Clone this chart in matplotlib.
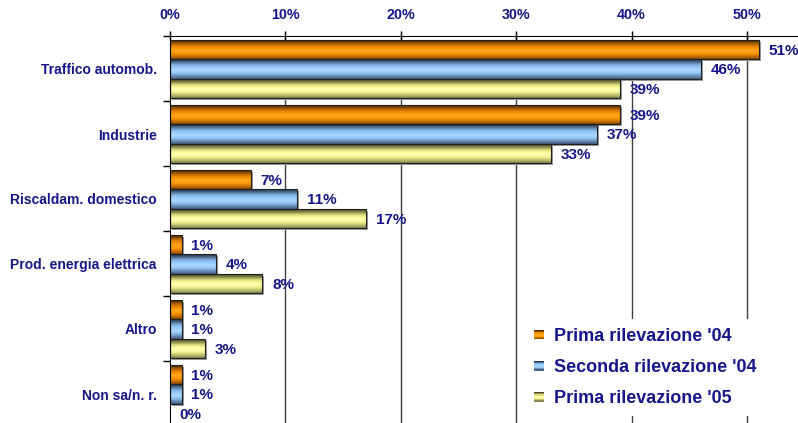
import numpy as np
import matplotlib
matplotlib.use("Agg")
import matplotlib.pyplot as plt
from matplotlib.colors import to_rgb
from matplotlib.patches import Rectangle
from matplotlib.legend_handler import HandlerBase

plt.rcParams['font.family'] = ['Liberation Sans', 'DejaVu Sans']

# Dati
categorie = ['Traffico automob.', 'Industrie', 'Riscaldam. domestico',
             'Prod. energia elettrica', 'Altro', 'Non sa/n. r.']
serie = ["Prima rilevazione '04", "Seconda rilevazione '04", "Prima rilevazione '05"]
prima_04 = [51, 39, 7, 1, 1, 1]
seconda_04 = [46, 37, 11, 4, 1, 1]
prima_05 = [39, 33, 17, 8, 3, 0]
valori = [prima_04, seconda_04, prima_05]

# sfumature (dall'alto al basso) per imitare le barre 3D di Excel
sfumature = [
    ['#4a2800', '#9a5600', '#e08000', '#ff9900', '#ffa626', '#ff9900', '#d27600', '#8c5000'],
    ['#22334a', '#4f6f90', '#80b0e0', '#99ccff', '#aad6ff', '#92c4f4', '#6d93bb', '#466282'],
    ['#4a4a22', '#8e8e4e', '#dede80', '#ffff99', '#ffffb4', '#f2f290', '#c2c272', '#8a8a52'],
]
blu = '#16168a'


# Interpola la sfumatura su n strisce
def interp(cols, n=20):
    rgb = np.array([to_rgb(c) for c in cols])
    xs = np.linspace(0, 1, len(cols))
    return [tuple(np.interp(t, xs, rgb[:, j]) for j in range(3)) for t in np.linspace(0, 1, n)]


fig = plt.figure(figsize=(7.98, 4.23), dpi=100)
ax = fig.add_axes([170 / 798, -3.5 / 423, 628 / 798, 390 / 423])

h = 0.3
y_cat = np.arange(len(categorie))

for s, (vals, cols) in enumerate(zip(valori, sfumature)):
    strisce = interp(cols)
    n_str = len(strisce)
    for i, v in enumerate(vals):
        yc = y_cat[i] + (s - 1) * h
        if v > 0:
            # ombra
            ax.barh(yc + 0.03, v, height=h, left=0.18, color='#9a9a9a', zorder=2)
            for k, c in enumerate(strisce):
                ys = yc - h / 2 + (k + 0.5) * h / n_str
                ax.barh(ys, v, height=h / n_str * 1.05, color=c, edgecolor='none',
                        lw=0, antialiased=False, zorder=3)
            ax.barh(yc, v, height=h, fill=False, edgecolor='#202020', lw=0.8, zorder=4)
        ax.annotate(f"{v}%", (v, yc), xytext=(7, -1), textcoords='offset points',
                    va='center', ha='left', color=blu, fontweight='bold',
                    fontsize=11, zorder=6, annotation_clip=False)

ax.set_xlim(0, 628 / 11.54)
ax.set_ylim(len(categorie) - 0.5, -0.5)

# Asse dei valori in alto
ax.xaxis.tick_top()
ax.set_xticks(np.arange(0, 51, 10))
ax.set_xticklabels([f"{t}%" for t in range(0, 51, 10)])
ax.tick_params(axis='x', which='major', direction='inout', length=7, width=1,
               pad=7, labelsize=10.3, labelcolor=blu)
for lab in ax.get_xticklabels():
    lab.set_fontweight('bold')
for x in range(10, 51, 10):
    ax.axvline(x, color='#404040', lw=1.0, zorder=1)

# Asse delle categorie
ax.set_yticks(y_cat)
ax.set_yticklabels(categorie)
ax.set_yticks(np.arange(-0.5, len(categorie)), minor=True)
ax.tick_params(axis='y', which='major', length=0, pad=9.5, labelsize=10, labelcolor=blu)
ax.tick_params(axis='y', which='minor', length=5, width=1, direction='out')
for lab in ax.get_yticklabels():
    lab.set_fontweight('bold')

for sp in ['right', 'bottom']:
    ax.spines[sp].set_visible(False)
ax.spines['left'].set_color('black')
ax.spines['top'].set_color('black')
ax.spines['left'].set_zorder(5)


# Quadratini della legenda con sfumatura
class GradientHandler(HandlerBase):
    def __init__(self, colors):
        super().__init__()
        self.colors = colors

    def create_artists(self, legend, orig_handle, xdescent, ydescent, width, height, fontsize, trans):
        arts = []
        n = len(self.colors)
        for k, c in enumerate(self.colors):
            r = Rectangle((-xdescent, -ydescent + height - (k + 1) * height / n), width, height / n,
                          facecolor=c, edgecolor='none', lw=0, antialiased=False, transform=trans)
            arts.append(r)
        return arts


handles = [Rectangle((0, 0), 1, 1) for _ in serie]
leg = ax.legend(handles, serie, loc='upper left', bbox_to_anchor=(516 / 798, 1 - 310 / 423),
                bbox_transform=fig.transFigure, frameon=True, facecolor='white',
                edgecolor='none', framealpha=1, fancybox=False, fontsize=13,
                handlelength=0.55, handleheight=0.45, handletextpad=0.55,
                labelspacing=0.78, borderpad=0.5,
                handler_map={h_: GradientHandler(c) for h_, c in zip(handles, sfumature)})
for t in leg.get_texts():
    t.set_color(blu)
    t.set_fontweight('bold')
leg.set_zorder(7)

fig.savefig('out.png', dpi=100)
